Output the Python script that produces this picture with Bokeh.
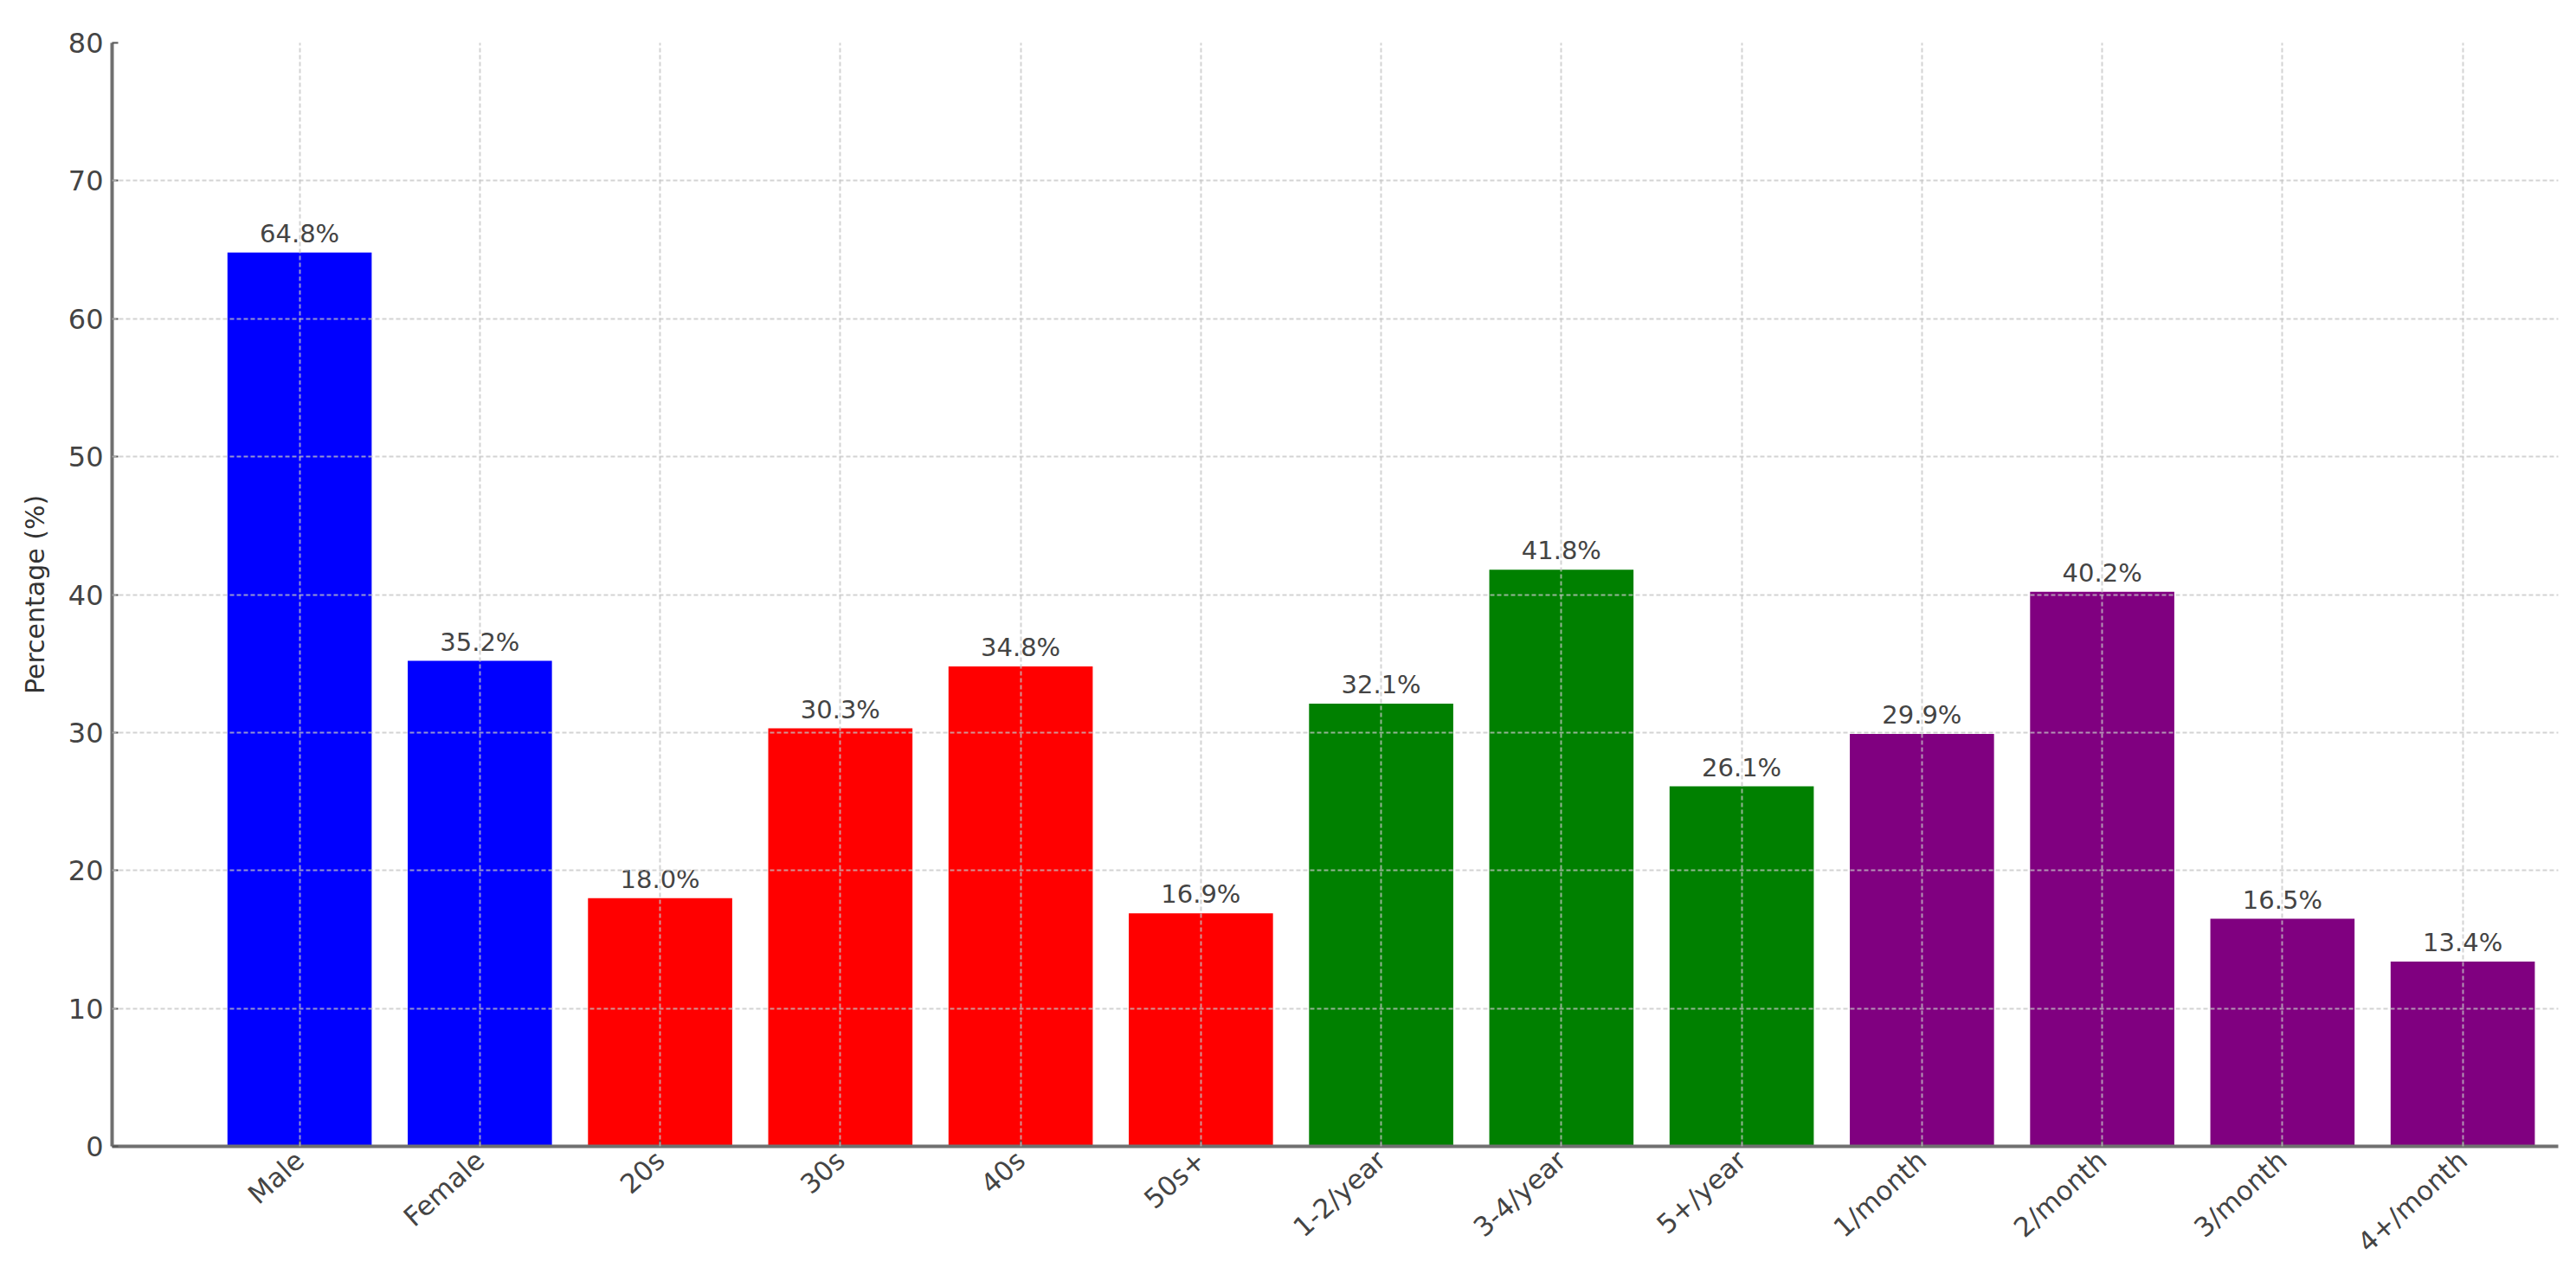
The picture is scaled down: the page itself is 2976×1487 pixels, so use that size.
import math
from bokeh.plotting import figure
from bokeh.models import ColumnDataSource, Range1d, FixedTicker
from bokeh.transform import factor_cmap
from bokeh.core.properties import value
from bokeh.embed import file_html
from bokeh.resources import INLINE

# ---- data ----
categories = ["Male", "Female", "20s", "30s", "40s", "50s+",
              "1-2/year", "3-4/year", "5+/year",
              "1/month", "2/month", "3/month", "4+/month"]
percentages = [64.8, 35.2, 18.0, 30.3, 34.8, 16.9,
               32.1, 41.8, 26.1,
               29.9, 40.2, 16.5, 13.4]
groups = ["Gender", "Gender", "Age", "Age", "Age", "Age",
          "Yearly", "Yearly", "Yearly",
          "Monthly", "Monthly", "Monthly", "Monthly"]
group_names = ["Gender", "Age", "Yearly", "Monthly"]
y_ticks = [0, 10, 20, 30, 40, 50, 60, 70, 80]

# ---- style ----
palette = ["#0000ff", "#ff0000", "#008000", "#800080"]
FONT = "DejaVu Sans"

idx = list(range(len(categories)))
src = ColumnDataSource(dict(
    x=idx,
    value=percentages,
    group=groups,
    label=[f"{v:.1f}%" for v in percentages],
))

p = figure(width=2960, height=1471, output_backend="svg", toolbar_location=None,
           x_range=Range1d(-1.04, 12.53), y_range=Range1d(0, 80),
           min_border_left=129, min_border_right=5, min_border_top=49,
           min_border_bottom=147)
p.outline_line_color = None
p.background_fill_color = "white"

p.vbar(x="x", top="value", width=0.8, source=src,
       fill_color=factor_cmap("group", palette=palette, factors=group_names),
       line_color=None)

p.text(x="x", y="value", text="label", source=src,
       text_align="center", text_baseline="alphabetic", y_offset=-22,
       text_font=value(FONT), text_font_size="29px", text_color="#444444")

# axes
xt = FixedTicker(ticks=idx)
yt = FixedTicker(ticks=y_ticks)
p.xaxis.ticker = xt
p.yaxis.ticker = yt
p.xaxis.major_label_overrides = {i: c for i, c in zip(idx, categories)}
p.xaxis.major_label_orientation = math.radians(42)
for ax in (p.xaxis[0], p.yaxis[0]):
    ax.axis_line_color = "#707070"
    ax.axis_line_width = 4
    ax.major_tick_line_color = "#555555"
    ax.major_tick_line_width = 2
    ax.major_tick_in = 7
    ax.major_tick_out = 0
    ax.minor_tick_line_color = None
    ax.major_label_text_font = FONT
    ax.major_label_text_color = "#444444"
p.yaxis.major_label_text_font_size = "32px"
p.xaxis.major_label_text_font_size = "31px"
p.yaxis.major_label_standoff = 10
p.xaxis.major_label_standoff = 11
p.yaxis.axis_label = "Percentage (%)"
p.yaxis.axis_label_text_font = FONT
p.yaxis.axis_label_text_font_size = "30px"
p.yaxis.axis_label_text_font_style = "normal"
p.yaxis.axis_label_text_color = "#333333"
p.yaxis.axis_label_standoff = 18

# grid above bars
for g, t in ((p.xgrid[0], xt), (p.ygrid[0], yt)):
    g.ticker = t
    g.grid_line_color = "#c4c4c4"
    g.grid_line_alpha = 0.75
    g.grid_line_width = 2
    g.grid_line_dash = "5 3"
    g.level = "overlay"

open("out.html", "w").write(file_html(p, INLINE))
